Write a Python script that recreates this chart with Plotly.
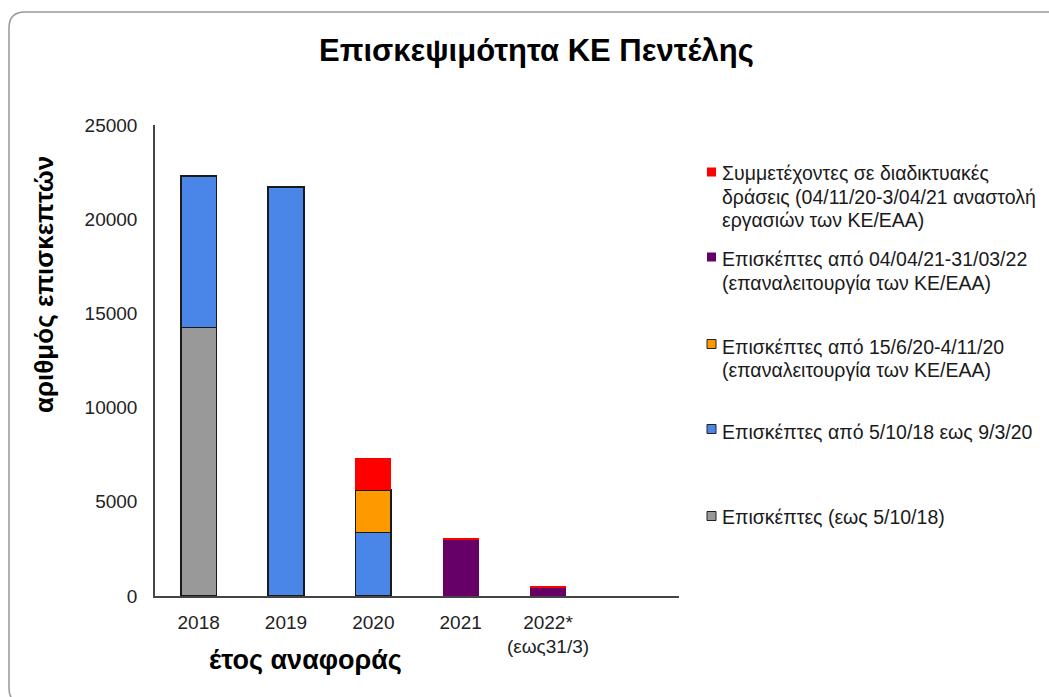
import plotly.graph_objects as go

categories = ["2018", "2019", "2020", "2021", "2022*<br>(εως31/3)"]
grey_vals = [14250, None, None, None, None]
blue_vals = [8050, 21700, 3360, None, None]
orange_vals = [None, None, 2260, None, None]
purple_vals = [None, None, None, 3000, 450]
red_vals = [None, None, 1700, 75, 90]

names = {
    "red": ["Συμμετέχοντες σε διαδικτυακές", "δράσεις (04/11/20-3/04/21 αναστολή", "εργασιών των ΚΕ/ΕΑΑ)"],
    "purple": ["Επισκέπτες από 04/04/21-31/03/22", "(επαναλειτουργία των ΚΕ/ΕΑΑ)"],
    "orange": ["Επισκέπτες από 15/6/20-4/11/20", "(επαναλειτουργία των ΚΕ/ΕΑΑ)"],
    "blue": ["Επισκέπτες από 5/10/18 εως 9/3/20"],
    "grey": ["Επισκέπτες (εως 5/10/18)"],
}
colors = {"grey": "#999999", "blue": "#4a86e8", "orange": "#ff9900",
          "purple": "#660066", "red": "#ff0000"}
outlined = {"grey": True, "blue": True, "orange": True, "purple": False, "red": False}

FONT = "Liberation Sans, Arial, sans-serif"
W, H = 1049, 697
L, R, T, B = 155, 679, 125, 596

def px(x):
    return (x - L) / (R - L)

def py(y):
    return (B - y) / (B - T)

fig = go.Figure()
series = [("grey", grey_vals), ("blue", blue_vals), ("orange", orange_vals),
          ("purple", purple_vals), ("red", red_vals)]
for key, vals in series:
    fig.add_trace(go.Bar(
        x=categories, y=vals, name=" ".join(names[key]),
        marker=dict(color=colors[key],
                    line=dict(color="#1a1a1a" if outlined[key] else colors[key],
                              width=1.5 if outlined[key] else 0)),
        width=0.41, showlegend=False,
    ))

annotations = [
    dict(text="<b>Επισκεψιμότητα ΚΕ Πεντέλης</b>", x=px(536), y=py(50),
         xref="paper", yref="paper", showarrow=False, xanchor="center", yanchor="middle",
         font=dict(family=FONT, size=31, color="#000000")),
    dict(text="<b>αριθμός επισκεπτών</b>", x=px(44), y=py(285), textangle=-90,
         xref="paper", yref="paper", showarrow=False, xanchor="center", yanchor="middle",
         font=dict(family=FONT, size=26, color="#000000")),
    dict(text="<b>έτος αναφοράς</b>", x=px(305), y=py(660),
         xref="paper", yref="paper", showarrow=False, xanchor="center", yanchor="middle",
         font=dict(family=FONT, size=27, color="#000000")),
]

shapes = []
legend_items = [("red", 173.3, 172), ("purple", 259.3, 257), ("orange", 346.7, 344),
                ("blue", 431.7, 429), ("grey", 516.7, 516)]
LINE = 23.4
for key, y0, sq in legend_items:
    for i, line in enumerate(names[key]):
        annotations.append(dict(
            text=line, x=px(720), y=py(y0 + i * LINE), xref="paper", yref="paper",
            showarrow=False, xanchor="left", yanchor="middle", align="left",
            font=dict(family=FONT, size=19.5, color="#1a1a1a")))
    shapes.append(dict(
        type="rect", xref="paper", yref="paper",
        x0=px(707), x1=px(716), y0=py(sq + 4.5), y1=py(sq - 4.5),
        fillcolor=colors[key],
        line=dict(color="#222222" if outlined[key] else colors[key],
                  width=1 if outlined[key] else 0)))

# rounded frame around the chart (extends past right/bottom edges)
fl, ft, fr, fb, rad = 9, 12, 1064, 704, 16
def P(x, y):
    return f"{px(x):.5f},{py(y):.5f}"
path = (f"M {P(fl + rad, ft)} L {P(fr - rad, ft)} Q {P(fr, ft)} {P(fr, ft + rad)} "
        f"L {P(fr, fb - rad)} Q {P(fr, fb)} {P(fr - rad, fb)} "
        f"L {P(fl + rad, fb)} Q {P(fl, fb)} {P(fl, fb - rad)} "
        f"L {P(fl, ft + rad)} Q {P(fl, ft)} {P(fl + rad, ft)} Z")
shapes.append(dict(type="path", path=path, xref="paper", yref="paper",
                   line=dict(color="#999999", width=1.5), fillcolor="rgba(0,0,0,0)",
                   layer="below"))

fig.update_layout(
    width=W, height=H,
    margin=dict(l=L, r=W - R, t=T, b=H - B, autoexpand=False),
    barmode="stack",
    paper_bgcolor="white", plot_bgcolor="white",
    font=dict(family=FONT, size=19, color="#222222"),
    annotations=annotations,
    shapes=shapes,
    xaxis=dict(type="category", categoryorder="array", categoryarray=categories,
               range=[-0.5, 5.5], showline=True, linecolor="#444444", linewidth=1.5,
               showgrid=False, ticks="", ticklabelstandoff=8,
               tickfont=dict(family=FONT, size=19, color="#222222")),
    yaxis=dict(range=[0, 25000], tickvals=[0, 5000, 10000, 15000, 20000, 25000],
               ticktext=["0", "5000", "10000", "15000", "20000", "25000"],
               showline=True, linecolor="#444444", linewidth=1.5,
               showgrid=False, ticks="", zeroline=False, ticklabelstandoff=12,
               tickfont=dict(family=FONT, size=19, color="#222222")),
)

fig.write_html("out.html", config={"displayModeBar": False},
               post_script="document.body.style.margin='0';document.body.style.overflow='hidden';")
